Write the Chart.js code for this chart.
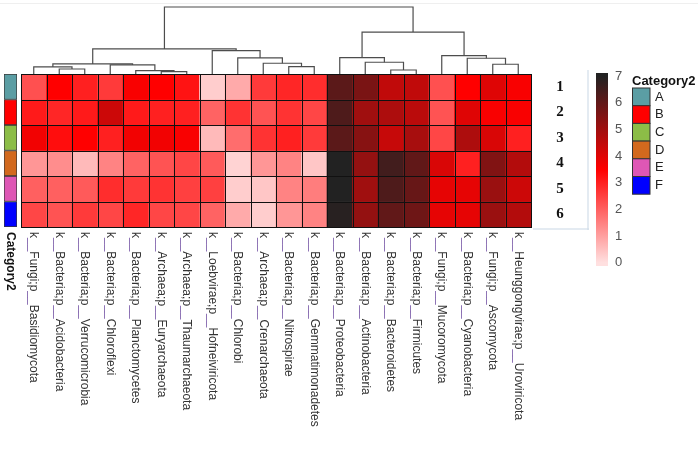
<!DOCTYPE html>
<html><head><meta charset="utf-8">
<script src="https://cdn.jsdelivr.net/npm/chart.js@4.4.0/dist/chart.umd.min.js"></script>
<style>
html,body{margin:0;padding:0;background:#fff;}
#wrap{position:relative;width:698px;height:451px;overflow:hidden;background:#fff;}
#wrap canvas{position:absolute;left:0;top:0;}
#topline{position:absolute;left:0;top:3px;width:698px;height:1px;background:#efefef;}
</style></head><body>
<div id="wrap">
<div id="topline"></div>
<canvas id="heat" width="698" height="451"></canvas>
<canvas id="dend" width="698" height="451"></canvas>
<canvas id="cat" width="698" height="451"></canvas>
<canvas id="cbar" width="698" height="451"></canvas>
</div>
<script>
// ---------------- data ----------------
const phyla = [
  'k__Fungi;p__Basidiomycota','k__Bacteria;p__Acidobacteria','k__Bacteria;p__Verrucomicrobia',
  'k__Bacteria;p__Chloroflexi','k__Bacteria;p__Planctomycetes','k__Archaea;p__Euryarchaeota',
  'k__Archaea;p__Thaumarchaeota','k__Loebvirae;p__Hofneiviricota','k__Bacteria;p__Chlorobi',
  'k__Archaea;p__Crenarchaeota','k__Bacteria;p__Nitrospirae','k__Bacteria;p__Gemmatimonadetes',
  'k__Bacteria;p__Proteobacteria','k__Bacteria;p__Actinobacteria','k__Bacteria;p__Bacteroidetes',
  'k__Bacteria;p__Firmicutes','k__Fungi;p__Mucoromycota','k__Bacteria;p__Cyanobacteria',
  'k__Fungi;p__Ascomycota','k__Heunggongvirae;p__Uroviricota'
];
const samples = ['1','2','3','4','5','6'];
const sampleGroups = ['A','B','C','D','E','F'];

const row1 = [2.25,3.5,3.0,2.6,3.6,3.5,3.2,0.3,0.85,2.6,2.9,2.8,6.1,5.6,4.5,4.5,2.25,3.5,4.0,3.6];
const row2 = [3.1,2.9,3.1,4.3,3.1,3.0,3.0,1.95,2.7,2.2,2.7,2.4,6.3,5.0,4.8,4.6,2.2,4.0,3.6,3.6];
const row3 = [3.7,3.3,3.5,3.0,3.7,3.7,3.6,0.6,1.8,2.7,3.0,2.6,6.1,5.4,4.4,4.9,2.4,4.8,4.1,3.0];
const row4 = [1.15,1.3,0.6,1.45,1.95,2.2,2.4,2.1,0.2,1.15,1.45,0.4,7.0,5.2,6.5,6.0,4.1,3.0,5.5,4.7];
const row5 = [2.0,2.0,2.1,2.8,2.6,2.7,2.5,2.5,0.3,0.4,1.45,1.55,7.0,5.0,6.3,5.9,3.9,3.9,5.1,4.3];
const row6 = [2.4,2.2,2.6,2.4,2.9,2.4,2.4,1.95,0.85,0.3,1.15,1.45,6.9,5.2,6.0,5.8,3.9,3.9,5.1,4.7];

// column dendrogram (hclust-style: negative = leaf -(index+1), positive = earlier merge number)
const mergeLeft   = [-2, -1, -6, -5, -4, 2, -11, -10, -9, -8, 6, -15, -14, -13, -19, -18, -17, 14, 11];
const mergeRight  = [-3,  1, -7,  3,  4, 5, -12,   7,  8,  9, 10, -16, 12, 13, -20, 15, 16, 17, 18];
const mergeHeight = [5, 7, 2.3, 3.3, 9, 10, 7.3, 10.7, 16, 23.3, 25, 4, 11.7, 16.3, 9.7, 15.7, 18.3, 41.7, 66.7];

const scaleTicks = [0,1,2,3,4,5,6,7];

// ---------------- styles ----------------
const groupColors = ['#5B9EA4','#FF0000','#8CBD47','#D2691E','#DE57B5','#0000FF'];
const FONT = "'Liberation Sans', Arial, Helvetica, sans-serif";
const LOW = [255,224,224], MID = [255,0,0], HIGH = [34,34,34];
function colorFor(v){
  let t = Math.max(0, Math.min(1, v/7));
  let a, b, s;
  if (t <= 0.5){ a = LOW; b = MID; s = t/0.5; } else { a = MID; b = HIGH; s = (t-0.5)/0.5; }
  const c = a.map((x,i)=>Math.round(x + (b[i]-x)*s));
  return 'rgb(' + c.join(',') + ')';
}
Chart.defaults.font.family = FONT;
const common = {responsive:false, animation:false, devicePixelRatio:1, events:[],
  plugins:{legend:{display:false}, tooltip:{enabled:false}}};

// ---------------- heatmap ----------------
const rows = [row1,row2,row3,row4,row5,row6];
const heatExtras = {
  id:'heatExtras',
  afterDatasetsDraw(chart){
    const {ctx, chartArea:a, scales:{x:xs, y:ys}} = chart;
    ctx.save();
    // cell borders
    ctx.strokeStyle = '#111'; ctx.lineWidth = 1;
    ctx.beginPath();
    for (let i=0;i<=phyla.length;i++){
      const x = Math.round(xs.getPixelForValue(i-0.5)) + 0.5;
      ctx.moveTo(x, a.top); ctx.lineTo(x, a.bottom);
    }
    for (let r=0;r<=samples.length;r++){
      const y = Math.round(ys.getPixelForValue(r)) + 0.5;
      ctx.moveTo(a.left, y); ctx.lineTo(a.right+1, y);
    }
    ctx.stroke();
    // shadow box behind the row labels
    ctx.fillStyle = 'rgba(205,218,232,0.55)';
    ctx.fillRect(a.right+2, a.bottom+1, 56, 2);
    ctx.fillRect(a.right+56, a.top-4, 2, a.bottom - a.top + 7);
    // row labels
    ctx.fillStyle = '#111';
    ctx.font = "bold 15px 'Liberation Serif', 'Times New Roman', serif";
    ctx.textAlign = 'center'; ctx.textBaseline = 'middle';
    samples.forEach((s,r)=> ctx.fillText(s, 560, ys.getPixelForValue(r+0.5)));
    // column labels (rotated clockwise)
    ctx.font = '12px ' + FONT;
    ctx.textAlign = 'left'; ctx.textBaseline = 'middle';
    phyla.forEach((lab,i)=>{
      const x = xs.getPixelForValue(i);
      ctx.save();
      ctx.translate(x, a.bottom + 5);
      ctx.rotate(Math.PI/2);
      const parts = lab.split('__');
      let pos = 0;
      parts.forEach((p,k)=>{
        if (k>0){
          ctx.fillStyle = '#7a5aa8';
          ctx.fillText('__', pos, 0);
          pos += ctx.measureText('__').width;
        }
        ctx.fillStyle = '#333';
        ctx.fillText(p, pos, 0);
        pos += ctx.measureText(p).width;
      });
      ctx.restore();
    });
    ctx.restore();
  }
};
new Chart(document.getElementById('heat'), {
  type:'bar',
  data:{labels:phyla, datasets: rows.map((vals,r)=>({
    label: samples[r],
    data: vals.map(()=>[r, r+1]),
    backgroundColor: vals.map(colorFor),
    borderWidth:0, grouped:false, barPercentage:1, categoryPercentage:1
  }))},
  options:Object.assign({}, common, {
    layout:{padding:{left:21, top:74, right:167, bottom:224}},
    scales:{x:{display:false, offset:true}, y:{display:false, min:0, max:samples.length, reverse:true}}
  }),
  plugins:[heatExtras]
});

// ---------------- dendrogram ----------------
const nodeX = [], nodeH = [];
function childPos(c){ return c < 0 ? {x:-c-1, h:0} : {x:nodeX[c-1], h:nodeH[c-1]}; }
const dendSets = mergeLeft.map((l,m)=>{
  const L = childPos(l), R = childPos(mergeRight[m]), h = mergeHeight[m];
  nodeX.push((L.x + R.x)/2); nodeH.push(h);
  return {data:[{x:L.x,y:L.h},{x:L.x,y:h},{x:R.x,y:h},{x:R.x,y:R.h}],
    showLine:true, borderColor:'#4d4d4d', borderWidth:1.2, pointRadius:0, tension:0, clip:4};
});
new Chart(document.getElementById('dend'), {
  type:'scatter',
  data:{datasets:dendSets},
  options:Object.assign({}, common, {
    layout:{padding:{left:21, top:7, right:167, bottom:377}},
    scales:{x:{type:'linear', display:false, min:-0.5, max:phyla.length-0.5},
            y:{type:'linear', display:false, min:0, max:Math.max(...mergeHeight)}}
  })
});

// ---------------- row annotation + legend ----------------
const catExtras = {
  id:'catExtras',
  afterDraw(chart){
    const {ctx, chartArea:a} = chart;
    ctx.save();
    ctx.fillStyle = '#111';
    ctx.font = 'bold 12px ' + FONT;
    ctx.textAlign = 'left'; ctx.textBaseline = 'middle';
    ctx.save(); ctx.translate((a.left+a.right)/2, a.bottom + 5); ctx.rotate(Math.PI/2);
    ctx.fillText('Category2', 0, 0); ctx.restore();
    // legend
    ctx.font = 'bold 13px ' + FONT; ctx.textBaseline = 'alphabetic';
    ctx.fillText('Category2', 632, 85);
    ctx.font = '13px ' + FONT; ctx.textBaseline = 'middle';
    sampleGroups.forEach((g,i)=>{
      const y = 88 + i*17.7;
      ctx.fillStyle = groupColors[i]; ctx.fillRect(632.5, y, 17.5, 17.7);
      ctx.strokeStyle = '#333'; ctx.lineWidth = 1; ctx.strokeRect(632.5, y, 17.5, 17.7);
      ctx.fillStyle = '#222'; ctx.fillText(g, 655, y + 9);
    });
    ctx.restore();
  }
};
new Chart(document.getElementById('cat'), {
  type:'bar',
  data:{labels:['Category2'], datasets: sampleGroups.map((g,r)=>({
    label:g, data:[[r, r+1]], backgroundColor:groupColors[r], borderColor:'#3a3a3a',
    borderWidth:1, borderSkipped:false, grouped:false, barPercentage:1, categoryPercentage:1
  }))},
  options:Object.assign({}, common, {
    layout:{padding:{left:4, top:74, right:681, bottom:224}},
    scales:{x:{display:false, offset:true}, y:{display:false, min:0, max:sampleGroups.length, reverse:true}}
  }),
  plugins:[catExtras]
});

// ---------------- colour bar ----------------
const lo = scaleTicks[0] - 0.12, hi = scaleTicks[scaleTicks.length-1] + 0.12;
const cbarExtras = {
  id:'cbarExtras',
  afterDraw(chart){
    const {ctx, chartArea:a, scales:{y:ys}} = chart;
    ctx.save();
    ctx.fillStyle = '#555'; ctx.font = '13px ' + FONT;
    ctx.textAlign = 'left'; ctx.textBaseline = 'middle';
    scaleTicks.forEach(t => ctx.fillText(String(t), a.right + 7, ys.getPixelForValue(t)));
    ctx.restore();
  }
};
new Chart(document.getElementById('cbar'), {
  type:'bar',
  data:{labels:['scale'], datasets:[{
    data:[[lo, hi]], borderWidth:0, barPercentage:1, categoryPercentage:1,
    backgroundColor(context){
      const {chart} = context; const {ctx, chartArea, scales} = chart;
      if (!chartArea) return '#f00';
      const y0 = scales.y.getPixelForValue(scaleTicks[0]);
      const y1 = scales.y.getPixelForValue(scaleTicks[scaleTicks.length-1]);
      const g = ctx.createLinearGradient(0, y0, 0, y1);
      g.addColorStop(0, 'rgb(' + LOW.join(',') + ')');
      g.addColorStop(0.5, 'rgb(' + MID.join(',') + ')');
      g.addColorStop(1, 'rgb(' + HIGH.join(',') + ')');
      return g;
    }
  }]},
  options:Object.assign({}, common, {
    layout:{padding:{left:596, top:73, right:90, bottom:185}},
    scales:{x:{display:false, offset:true}, y:{display:false, min:lo, max:hi}}
  }),
  plugins:[cbarExtras]
});
</script>
</body></html>
